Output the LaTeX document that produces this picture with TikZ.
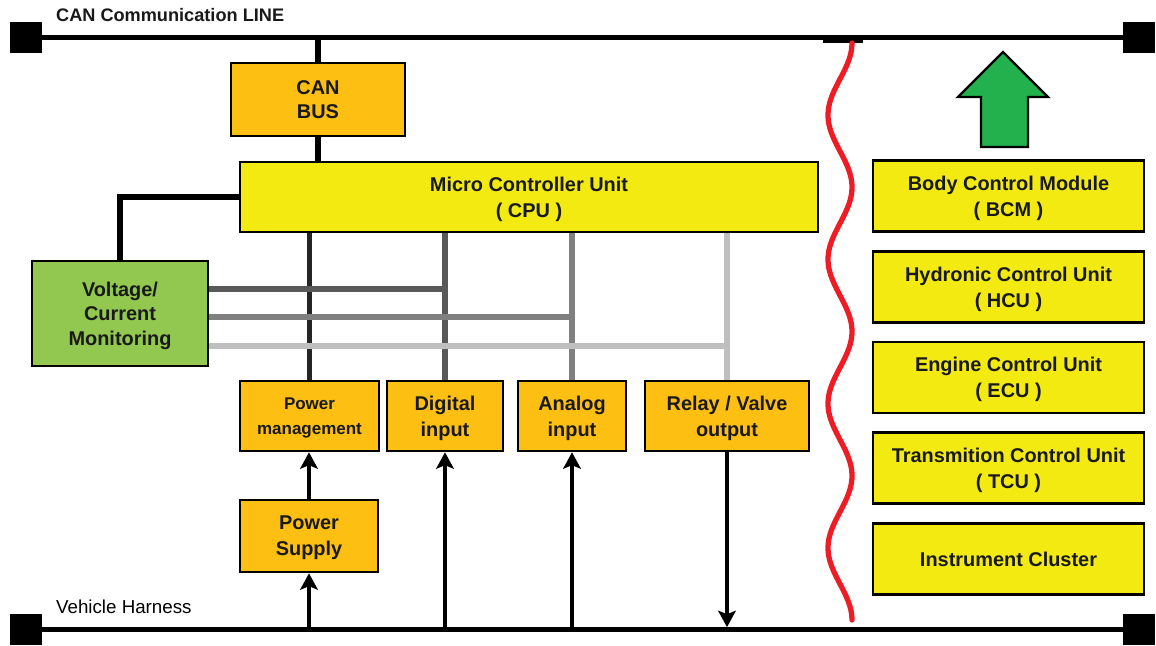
\documentclass[tikz,border=0pt]{standalone}
\usepackage{fontspec}
\setmainfont{Liberation Sans}
\usepackage{xcolor}
\usepackage{tikz}
\usetikzlibrary{arrows.meta}
\definecolor{boxorange}{HTML}{FDBF12}
\definecolor{boxyellow}{HTML}{F2EA10}
\definecolor{boxgreen}{HTML}{92C750}
\definecolor{upgreen}{HTML}{23B14D}
\definecolor{wavered}{HTML}{EE1C25}

\begin{document}
\begin{tikzpicture}[x=0.03cm,y=-0.03cm,>=Stealth,
unit/.style={draw=black,line width=2.2pt,inner sep=0pt,align=center,text=black!90,text depth=0pt,
  font=\bfseries\fontsize{17}{22}\selectfont},
orangebox/.style={unit,fill=boxorange},
yellowbox/.style={unit,fill=boxyellow,minimum width=8.13cm,minimum height=2.13cm},
term/.style={fill=black,inner sep=0pt,minimum width=0.96cm,minimum height=0.93cm},
bus/.style={line width=4.8pt},
link/.style={line width=4.8pt},
feed/.style={line width=4.8pt,draw=#1},
arr/.style={line width=3.4pt,-{Stealth[length=14pt,width=15pt,inset=3pt]}}]
\useasboundingbox (0,0) rectangle (1156,645);
% bus terminals
\node[term] (tl) at (26,37.5) {};
\node[term] (tr) at (1139,37.5) {};
\node[term] (bl) at (26,629.5) {};
\node[term] (br) at (1139,629.5) {};
\draw[bus] (tl) -- (tr);
\draw[bus] (bl) -- (br);
\fill (823,35) rectangle (863,43);
\node[anchor=base west,font=\bfseries\fontsize{15.5}{18}\selectfont,text=black!90] (canline) at (52,21) {CAN Communication LINE};
\node[anchor=base west,font=\fontsize{16}{18}\selectfont,text=black] (harness) at (52,613) {Vehicle Harness};
% left side
\node[orangebox,minimum width=5.22cm,minimum height=2.19cm] (canbus) at (318,99.5) {CAN\\[-1pt]BUS};
\node[unit,fill=boxyellow,minimum width=17.34cm,minimum height=2.1cm] (mcu) at (529,197) {Micro Controller Unit\\( CPU )};
\node[unit,fill=boxgreen,minimum width=5.28cm,minimum height=3.15cm,font=\bfseries\fontsize{17}{21}\selectfont] (volt) at (120,313.5) {Voltage/\\Current\\Monitoring};
\node[orangebox,minimum width=4.17cm,minimum height=2.1cm,font=\bfseries\fontsize{14.5}{21}\selectfont] (pwrm) at (309.5,416) {Power\\management};
\node[orangebox,minimum width=3.48cm,minimum height=2.1cm] (digin) at (445,416) {Digital\\input};
\node[orangebox,minimum width=3.24cm,minimum height=2.1cm] (anain) at (572,416) {Analog\\input};
\node[orangebox,minimum width=4.92cm,minimum height=2.1cm] (relay) at (727,416) {Relay / Valve\\output};
\node[orangebox,minimum width=4.14cm,minimum height=2.16cm] (pwrsup) at (309,536) {Power\\Supply};
\draw[link] (canbus.north |- tl) -- (canbus.north);
\draw[link] (canbus.south) -- (canbus.south |- mcu.north);
\draw[link] (mcu.west) -| (volt.north);
\draw[feed=black!85] (pwrm.north |- mcu.south) -- (pwrm.north);
\draw[feed=black!65] (digin.north |- mcu.south) -- (digin.north);
\draw[feed=black!50] (anain.north |- mcu.south) -- (anain.north);
\draw[feed=black!25] (relay.north |- mcu.south) -- (relay.north);
\draw[feed=black!65] (volt.east |- 0,289) -- (digin.north |- 0,289);
\draw[feed=black!50] (volt.east |- 0,317) -- (anain.north |- 0,317);
\draw[feed=black!25] (volt.east |- 0,346) -- (relay.north |- 0,346);
\draw[arr] (pwrsup.south |- bl) -- (pwrsup.south);
\draw[arr] (pwrsup.north) -- (pwrsup.north |- pwrm.south);
\draw[arr] (digin.south |- bl) -- (digin.south);
\draw[arr] (anain.south |- bl) -- (anain.south);
\draw[arr,shorten >=2pt] (relay.south) -- (relay.south |- bl);
% other units on the bus
\node[yellowbox] (bcm) at (1008.5,196) {Body Control Module\\( BCM )};
\node[yellowbox] (hcu) at (1008.5,287) {Hydronic Control Unit\\( HCU )};
\node[yellowbox] (ecu) at (1008.5,377.5) {Engine Control Unit\\( ECU )};
\node[yellowbox] (tcu) at (1008.5,468) {Transmition Control Unit\\( TCU )};
\node[yellowbox] (ic) at (1008.5,559) {Instrument Cluster};
\draw[wavered,line width=4.5pt,line cap=round] plot[domain=43:620,samples=120,smooth] ({840+12*cos((\x-43)/144.25*360)},\x);
\draw[line width=2pt,fill=upgreen,line join=miter] (1003,52) -- (1048,97) -- (1028,97) -- (1028,147) -- (981,147) -- (981,97) -- (958,97) -- cycle;
\end{tikzpicture}
\end{document}
